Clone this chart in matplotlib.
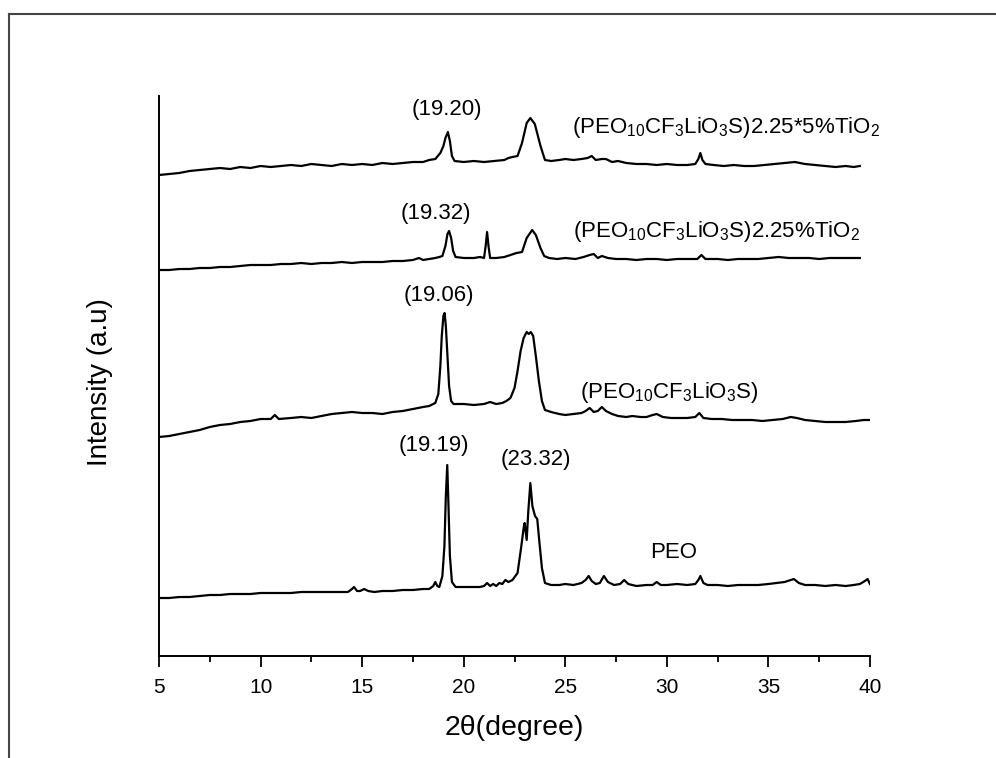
import matplotlib
matplotlib.use("Agg")
import matplotlib.pyplot as plt
from matplotlib.lines import Line2D

plt.rcParams['font.family'] = ['Liberation Sans', 'DejaVu Sans']
plt.rcParams['mathtext.fontset'] = 'custom'
plt.rcParams['mathtext.rm'] = 'Liberation Sans'
plt.rcParams['mathtext.default'] = 'regular'

# 读图得到的数据 (2θ, 强度 a.u., 已含堆叠偏移)
# (PEO10CF3LiO3S)2.25*5%TiO2
tio2_5_2theta = [5, 5.5, 6, 6.5, 7, 7.5, 8, 8.5, 9, 9.5, 10, 10.5, 11, 11.5, 12, 12.5, 13, 13.5, 14,
                 14.5, 15, 15.5, 16, 16.5, 17, 17.5, 18, 18.3, 18.6, 18.85, 19.0, 19.1, 19.22, 19.32,
                 19.42, 19.55, 20, 20.5, 21, 21.5, 22, 22.2, 22.4, 22.65, 22.87, 23.1, 23.28, 23.5,
                 23.78, 24.0, 24.3, 24.7, 25, 25.4, 25.8, 26.1, 26.3, 26.5, 26.8, 27.0, 27.3, 27.6,
                 28, 28.5, 29, 29.5, 30, 30.5, 31, 31.4, 31.55, 31.65, 31.75, 31.9, 32.3, 32.8, 33.3,
                 33.8, 34.3, 34.8, 35.3, 35.8, 36.3, 36.8, 37.3, 37.8, 38.3, 38.8, 39.2, 39.5]
tio2_5_int = [481, 482, 483, 485, 486, 487, 488, 487, 489, 488, 490, 489, 490, 491, 490, 492, 491, 490, 492,
              491, 492, 491, 493, 492, 493, 494, 494, 496, 497, 503, 510, 518, 524, 515,
              500, 495, 494, 495, 494, 495, 496, 498, 499, 500, 513, 533, 538, 532,
              510, 496, 495, 496, 497, 496, 497, 498, 500, 496, 497, 497, 494, 495,
              493, 492, 492, 491, 492, 491, 491, 492, 497, 503, 496, 492, 491, 490, 491,
              490, 490, 491, 492, 493, 494, 492, 491, 490, 489, 490, 489, 490]

# (PEO10CF3LiO3S)2.25%TiO2
tio2_2theta = [5, 5.5, 6, 6.5, 7, 7.5, 8, 8.5, 9, 9.5, 10, 10.5, 11, 11.5, 12, 12.5, 13, 13.5, 14,
               14.5, 15, 15.5, 16, 16.5, 17, 17.5, 17.8, 18.0, 18.3, 18.6, 18.8, 18.95, 19.1, 19.2,
               19.28, 19.38, 19.48, 19.6, 20, 20.5, 20.8, 21.0, 21.08, 21.15, 21.22, 21.3, 21.6, 22,
               22.3, 22.6, 22.87, 23.1, 23.37, 23.55, 23.78, 23.96, 24.2, 24.6, 25, 25.5, 25.9, 26.2,
               26.4, 26.6, 26.8, 27.1, 27.5, 28, 28.5, 29, 29.5, 30, 30.5, 31, 31.5, 31.7, 31.9,
               32.5, 33, 33.5, 34, 34.5, 35, 35.5, 36, 36.5, 37, 37.5, 38, 38.5, 39, 39.5]
tio2_int = [386, 386, 387, 387, 388, 388, 389, 389, 390, 391, 391, 391, 392, 392, 393, 392, 393, 393, 394,
            393, 394, 394, 394, 395, 395, 396, 398, 396, 397, 398, 399, 400, 410, 422,
            425, 418, 405, 399, 398, 398, 399, 398, 410, 424, 410, 398, 398, 399,
            401, 403, 404, 418, 426, 421, 408, 400, 398, 397, 398, 397, 399, 401,
            402, 398, 400, 398, 397, 397, 396, 397, 397, 396, 397, 397, 397, 401, 397,
            397, 396, 397, 397, 397, 398, 399, 398, 398, 398, 397, 398, 398, 398, 398]

# (PEO10CF3LiO3S)
salt_2theta = [5, 5.5, 6, 6.5, 7, 7.5, 8, 8.5, 9, 9.5, 10, 10.5, 10.7, 10.9, 11.5, 12, 12.5, 13, 13.5,
               14, 14.5, 15, 15.5, 16, 16.5, 17, 17.5, 18, 18.3, 18.6, 18.75, 18.85, 18.92, 19.0,
               19.06, 19.12, 19.2, 19.28, 19.38, 19.5, 20, 20.5, 21, 21.3, 21.6, 21.9, 22.1, 22.3,
               22.5, 22.65, 22.8, 22.95, 23.1, 23.2, 23.3, 23.42, 23.55, 23.7, 23.85, 24.0, 24.3,
               24.7, 25, 25.4, 25.8, 26.0, 26.2, 26.4, 26.6, 26.8, 27.0, 27.3, 27.6, 28, 28.3, 28.7,
               29, 29.3, 29.5, 29.8, 30.2, 30.6, 31, 31.4, 31.6, 31.8, 32.2, 32.7, 33.2, 33.7, 34.2,
               34.7, 35.2, 35.7, 36.1, 36.4, 36.8, 37.3, 37.8, 38.3, 38.8, 39.3, 39.7, 40]
salt_int = [219, 220, 222, 224, 226, 229, 231, 232, 234, 235, 237, 237, 241, 237, 238, 239, 238, 240, 242,
            243, 244, 243, 243, 242, 244, 245, 247, 249, 250, 253, 262, 290, 320, 340,
            343, 330, 300, 270, 255, 252, 252, 251, 252, 254, 252, 253, 255, 258,
            268, 285, 305, 318, 324, 322, 324, 320, 300, 275, 255, 246, 244,
            242, 241, 242, 243, 245, 248, 244, 245, 249, 245, 242, 240, 239, 240, 239,
            239, 241, 242, 239, 238, 238, 238, 239, 243, 238, 237, 237, 236, 236, 236,
            235, 236, 237, 239, 238, 236, 235, 234, 234, 234, 235, 236, 236]

# PEO
peo_2theta = [5, 5.5, 6, 6.5, 7, 7.5, 8, 8.5, 9, 9.5, 10, 10.5, 11, 11.5, 12, 12.5, 13, 13.5, 14, 14.3,
              14.5, 14.6, 14.75, 14.9, 15.1, 15.3, 15.6, 16, 16.5, 17, 17.5, 18, 18.3, 18.5, 18.6,
              18.7, 18.8, 18.95, 19.05, 19.12, 19.19, 19.25, 19.32, 19.42, 19.6, 20, 20.5, 20.8,
              21.0, 21.15, 21.3, 21.45, 21.6, 21.75, 21.9, 22.05, 22.2, 22.4, 22.65, 22.83, 22.95,
              23.0, 23.1, 23.18, 23.28, 23.38, 23.51, 23.62, 23.72, 23.85, 24.0, 24.3, 24.7, 25,
              25.4, 25.8, 26.0, 26.15, 26.3, 26.5, 26.7, 26.9, 27.1, 27.4, 27.7, 27.9, 28.1, 28.5,
              29, 29.3, 29.5, 29.7, 30, 30.5, 31, 31.4, 31.55, 31.65, 31.8, 32, 32.5, 33, 33.5, 34,
              34.5, 35, 35.4, 35.8, 36.1, 36.25, 36.5, 36.8, 37.3, 37.8, 38.3, 38.8, 39.2, 39.5,
              39.75, 39.88, 40]
peo_int = [58, 58, 59, 59, 60, 61, 61, 62, 62, 62, 63, 63, 63, 63, 64, 64, 64, 64, 64, 64,
           67, 69, 65, 65, 67, 65, 64, 65, 65, 66, 66, 67, 67, 70, 74,
           70, 69, 80, 110, 160, 191, 150, 100, 74, 69, 69, 69, 69,
           70, 73, 70, 72, 70, 73, 72, 76, 74, 76, 83, 109, 128,
           133, 116, 145, 173, 150, 140, 137, 115, 88, 73, 71, 71, 72,
           71, 73, 76, 80, 75, 72, 73, 80, 74, 71, 72, 76, 72, 70,
           71, 71, 74, 71, 71, 72, 71, 72, 76, 80, 73, 71, 71, 70, 71, 71,
           71, 72, 73, 74, 76, 77, 73, 71, 71, 70, 71, 70, 71, 72,
           75, 77, 72]

series = [(tio2_5_2theta, tio2_5_int), (tio2_2theta, tio2_int),
          (salt_2theta, salt_int), (peo_2theta, peo_int)]

fig = plt.figure(figsize=(9.96, 7.58), dpi=100)
ax = fig.add_axes([159 / 996, 1 - 656 / 758, (870 - 159) / 996, (656 - 96) / 758])

for tt, inten in series:
    ax.plot(tt, inten, color='black', lw=1.6)

ax.set_xlim(5, 40)
ax.set_ylim(0, 560)
ax.set_xticks(range(5, 41, 5))
ax.set_xticks([7.5, 12.5, 17.5, 22.5, 27.5, 32.5, 37.5], minor=True)
ax.set_yticks([])
ax.tick_params(axis='x', which='major', direction='out', length=8, width=1.3, labelsize=15, pad=8)
ax.tick_params(axis='x', which='minor', direction='out', length=4, width=1.3)
for s in ['top', 'right']:
    ax.spines[s].set_visible(False)
for s in ['left', 'bottom']:
    ax.spines[s].set_linewidth(1.4)

# 峰位和样品标注
fs = 16
ax.text(19.18, 546, '(19.20)', ha='center', va='center', fontsize=fs)
ax.text(18.64, 443, '(19.32)', ha='center', va='center', fontsize=fs)
ax.text(18.79, 361, '(19.06)', ha='center', va='center', fontsize=fs)
ax.text(18.54, 211, '(19.19)', ha='center', va='center', fontsize=fs)
ax.text(23.56, 196, '(23.32)', ha='center', va='center', fontsize=fs)
ax.text(30.31, 103, 'PEO', ha='center', va='center', fontsize=fs)
ax.text(25.33, 523, '(PEO$_{10}$CF$_3$LiO$_3$S)2.25*5%TiO$_2$', ha='left', va='baseline', fontsize=fs)
ax.text(25.38, 419, '(PEO$_{10}$CF$_3$LiO$_3$S)2.25%TiO$_2$', ha='left', va='baseline', fontsize=fs)
ax.text(25.73, 258, '(PEO$_{10}$CF$_3$LiO$_3$S)', ha='left', va='baseline', fontsize=fs)

fig.text(514 / 996, 1 - 728 / 758, '2θ(degree)', ha='center', va='center', fontsize=20.5)
fig.text(100 / 996, 1 - 382 / 758, 'Intensity (a.u)', ha='center', va='center', rotation=90, fontsize=20)

# 外框线
fig.add_artist(Line2D([9 / 996, 1.0], [1 - 14 / 758, 1 - 14 / 758], color='#444444', lw=1.5))
fig.add_artist(Line2D([9 / 996, 9 / 996], [0, 1 - 14 / 758], color='#444444', lw=1.5))

fig.savefig('out.png', dpi=100)
